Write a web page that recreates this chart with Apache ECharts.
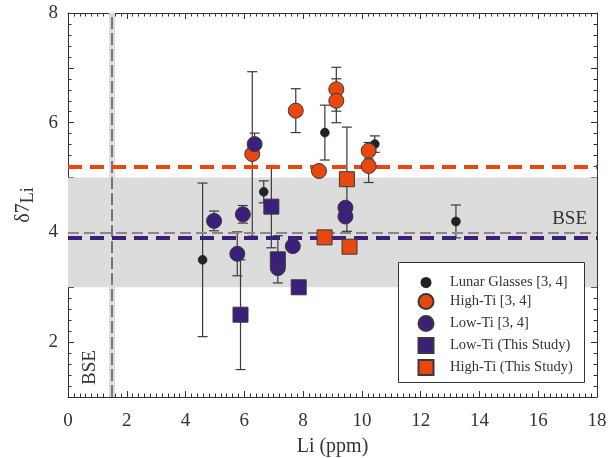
<!DOCTYPE html>
<html><head><meta charset="utf-8">
<script src="https://cdn.jsdelivr.net/npm/echarts@6/dist/echarts.min.js"></script>
<style>html,body{margin:0;padding:0;background:#fff}#c{width:611px;height:458px}</style>
</head><body><div id="c"></div>
<script>
// ---- data ----
const lunarX = [4.58, 6.66, 8.74, 10.44, 13.20];
const lunarY = [3.50, 4.74, 5.82, 5.61, 4.20];
const lunarErr = [1.4, 0.2, 0.5, 0.15, 0.3];

const hiTiX = [7.75, 9.13, 9.13, 6.27, 8.54, 10.23, 10.23];
const hiTiY = [6.22, 6.61, 6.40, 5.43, 5.12, 5.49, 5.21];
const hiTiErr = [0.4, 0.4, 0.4, 1.5, 0, 0.15, 0.3];

const loTiX = [4.97, 5.95, 6.35, 9.44, 9.44, 5.76, 7.65, 7.14];
const loTiY = [4.21, 4.33, 5.61, 4.45, 4.29, 3.61, 3.75, 3.35];
const loTiErr = [0.18, 0.16, 0.2, 0, 0, 0.4, 0, 0];

const loStudyX = [6.92, 7.14, 7.85, 5.87];
const loStudyY = [4.47, 3.51, 3.00, 2.50];
const loStudyErr = [0.75, 0.43, 0, 1.0];

const hiStudyX = [9.49, 8.73, 9.58];
const hiStudyY = [4.97, 3.91, 3.74];
const hiStudyErr = [0.95, 0.05, 0];

const bseBand = [3, 5];
const bseLiBand = [1.4, 1.6];
const bseLi = 1.5;
const bseD7 = 4.0;
const hiTiMean = 5.2;
const loTiMean = 3.9;

const xRange = [0, 18];
const yRange = [1, 8];

const names = ['Lunar Glasses [3, 4]', 'High-Ti [3, 4]', 'Low-Ti [3, 4]', 'Low-Ti (This Study)', 'High-Ti (This Study)'];

// ---- styling ----
const FONT = '"Liberation Serif", "Times New Roman", serif';
const ORANGE = '#E8470E';
const PURPLE = '#3C1F7A';
const DARK = '#1F2327';
const AX = '#333';

function pts(xs, ys) { return xs.map((x, i) => [x, ys[i]]); }

function errSeries(xs, ys, es) {
  const d = [];
  xs.forEach((x, i) => { if (es[i] > 0) d.push([x, ys[i] - es[i], ys[i] + es[i]]); });
  return {
    type: 'custom', silent: true, z: 3,
    data: d,
    encode: { x: 0, y: [1, 2] },
    renderItem: function (params, api) {
      const lo = api.coord([api.value(0), api.value(1)]);
      const hi = api.coord([api.value(0), api.value(2)]);
      const w = 5;
      const st = { stroke: '#3a3a3a', lineWidth: 1.2 };
      return { type: 'group', children: [
        { type: 'line', shape: { x1: lo[0], y1: lo[1], x2: hi[0], y2: hi[1] }, style: st },
        { type: 'line', shape: { x1: lo[0] - w, y1: lo[1], x2: lo[0] + w, y2: lo[1] }, style: st },
        { type: 'line', shape: { x1: hi[0] - w, y1: hi[1], x2: hi[0] + w, y2: hi[1] }, style: st }
      ]};
    }
  };
}

function axisCommon(extra) {
  return Object.assign({
    type: 'value',
    axisLine: { show: true, onZero: false, lineStyle: { color: AX, width: 1 } },
    axisTick: { show: true, inside: true, length: 6, lineStyle: { color: AX } },
    minorTick: { show: true, length: 3.5, lineStyle: { color: AX } },
    splitLine: { show: false },
    minorSplitLine: { show: false }
  }, extra);
}

const chart = echarts.init(document.getElementById('c'), null, { renderer: 'canvas' });

const option = {
  animation: false,
  backgroundColor: '#fff',
  textStyle: { fontFamily: FONT },
  grid: { left: 68, right: 14, top: 13, bottom: 61, containLabel: false, outerBoundsMode: 'none' },
  xAxis: [
    axisCommon({
      min: xRange[0], max: xRange[1], interval: 2,
      minorTick: { show: true, splitNumber: 10, length: 3.5, lineStyle: { color: AX } },
      axisLabel: { color: '#333', fontSize: 19, fontFamily: FONT, margin: 15 },
      name: 'Li (ppm)', nameLocation: 'middle', nameGap: 40,
      nameTextStyle: { color: '#333', fontSize: 20, fontFamily: FONT }
    }),
    axisCommon({
      position: 'top', min: xRange[0], max: xRange[1], interval: 2,
      minorTick: { show: true, splitNumber: 10, length: 3.5, lineStyle: { color: AX } },
      axisLabel: { show: false }
    })
  ],
  yAxis: [
    axisCommon({
      min: yRange[0], max: yRange[1], interval: 1,
      minorTick: { show: true, splitNumber: 5, length: 3.5, lineStyle: { color: AX } },
      axisLabel: { color: '#333', fontSize: 19, fontFamily: FONT, margin: 10,
        formatter: v => (v % 2 === 0 ? String(v) : '') },
      name: '{a|δ7}{b|Li}', nameLocation: 'middle', nameGap: 25, nameRotate: 90,
      nameTextStyle: { color: '#333', fontFamily: FONT,
        rich: {
          a: { fontSize: 20, fontFamily: FONT, color: '#333', verticalAlign: 'top', lineHeight: 24 },
          b: { fontSize: 18, fontFamily: FONT, color: '#333', verticalAlign: 'bottom', lineHeight: 24, padding: [4, 0, 0, 0] }
        } }
    }),
    axisCommon({
      position: 'right', min: yRange[0], max: yRange[1], interval: 1,
      minorTick: { show: true, splitNumber: 5, length: 3.5, lineStyle: { color: AX } },
      axisLabel: { show: false }
    })
  ],
  legend: [
    {
      data: [names[0]], orient: 'vertical', left: 420.5, top: 275, padding: 0,
      itemWidth: 9, itemHeight: 9, z: 100,
      textStyle: { fontFamily: FONT, fontSize: 14.5, color: '#333', padding: [0, 0, 0, 14.5] }
    },
    {
      data: names.slice(1), orient: 'vertical', left: 417.5, top: 293, padding: 0,
      itemWidth: 15, itemHeight: 15, itemGap: 5, z: 100,
      textStyle: { fontFamily: FONT, fontSize: 14.5, color: '#333', padding: [0, 0, 0, 11.5] }
    }
  ],
  graphic: [
    { type: 'rect', z: 50, shape: { x: 398.5, y: 262.5, width: 186, height: 120 },
      style: { fill: '#fff', stroke: '#333', lineWidth: 1 } }
  ],
  series: [
    { type: 'line', data: [], z: 1, silent: true,
      markArea: { silent: true, itemStyle: { color: '#DCDCDC' },
        data: [
          [{ yAxis: bseBand[0] }, { yAxis: bseBand[1] }],
          [{ xAxis: bseLiBand[0] }, { xAxis: bseLiBand[1] }]
        ] } },
    { type: 'line', data: [], z: 2, silent: true,
      markLine: { silent: true, symbol: ['none', 'none'], animation: false,
        data: [
          { yAxis: bseD7, lineStyle: { color: '#888', width: 2, type: [11, 5] },
            label: { show: true, position: 'insideEndTop', formatter: 'BSE', color: '#333',
              fontSize: 19, fontFamily: FONT, distance: [10, 4] } },
          { xAxis: bseLi, lineStyle: { color: '#555', width: 1.5, type: [12, 4] },
            label: { show: true, position: 'insideStartTop', formatter: 'BSE', color: '#333',
              fontSize: 19, fontFamily: FONT, distance: [12, 13] } },
          { yAxis: hiTiMean, lineStyle: { color: ORANGE, width: 4, type: [14, 8] }, label: { show: false } },
          { yAxis: loTiMean, lineStyle: { color: PURPLE, width: 4, type: [14, 8] }, label: { show: false } }
        ] } },
    errSeries(lunarX, lunarY, lunarErr),
    errSeries(hiTiX, hiTiY, hiTiErr),
    errSeries(loTiX, loTiY, loTiErr),
    errSeries(loStudyX, loStudyY, loStudyErr),
    errSeries(hiStudyX, hiStudyY, hiStudyErr),
    { name: names[0], type: 'scatter', z: 4, symbol: 'circle', symbolSize: 9,
      itemStyle: { color: DARK, borderColor: DARK, borderWidth: 0.5, opacity: 1 },
      data: pts(lunarX, lunarY) },
    { name: names[1], type: 'scatter', z: 5, symbol: 'circle', symbolSize: 15,
      itemStyle: { color: ORANGE, borderColor: '#3a3a3a', borderWidth: 1, opacity: 1 },
      data: pts(hiTiX, hiTiY) },
    { name: names[2], type: 'scatter', z: 6, symbol: 'circle', symbolSize: 15,
      itemStyle: { color: PURPLE, borderColor: '#3a3a3a', borderWidth: 1, opacity: 1 },
      data: pts(loTiX, loTiY) },
    { name: names[3], type: 'scatter', z: 7, symbol: 'rect', symbolSize: 15,
      itemStyle: { color: PURPLE, borderColor: '#3a3a3a', borderWidth: 1, opacity: 1 },
      data: pts(loStudyX, loStudyY) },
    { name: names[4], type: 'scatter', z: 8, symbol: 'rect', symbolSize: 15,
      itemStyle: { color: ORANGE, borderColor: '#3a3a3a', borderWidth: 1, opacity: 1 },
      data: pts(hiStudyX, hiStudyY) }
  ]
};
chart.setOption(option);
</script></body></html>
